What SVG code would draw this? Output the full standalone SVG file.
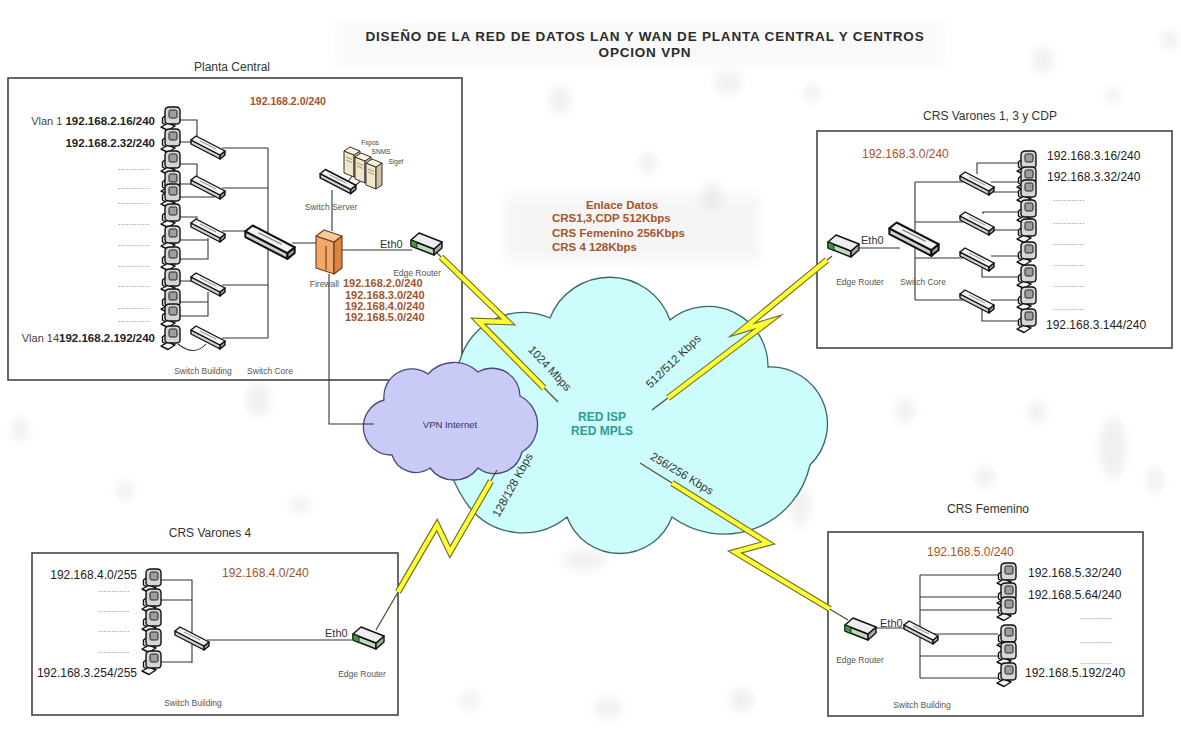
<svg xmlns="http://www.w3.org/2000/svg" width="1181" height="742" viewBox="0 0 1181 742">
<style>
 text { font-family: "Liberation Sans", Arial, sans-serif; }
 .box { fill:#fff; stroke:#444; stroke-width:1.6; }
 .ln { fill:none; stroke:#333; stroke-width:1.1; }
 .ttl { font-size:13.5px; font-weight:bold; letter-spacing:0.8px; fill:#2b2b2b; text-anchor:middle; }
 .hdr { font-size:12px; fill:#333; text-anchor:middle; }
 .ip { font-size:12px; fill:#222; }
 .ipb { font-weight:bold; font-size:11.5px; }
 .org { fill:#a3542a; }
 .sm { font-size:8.5px; fill:#555; text-anchor:middle; }
 .dots { font-size:9.5px; fill:#888; }
 .eth { font-size:11px; fill:#333; }
 .rate { font-size:11.5px; fill:#333; text-anchor:middle; }
 .wire { fill:none; stroke:#55552a; stroke-width:1.3; }
 .bolt-e { fill:none; stroke:#6d6d2c; stroke-width:6.5; stroke-linejoin:miter; stroke-miterlimit:6; }
 .bolt-y { fill:none; stroke:#ffff33; stroke-width:4.3; stroke-linejoin:miter; stroke-miterlimit:6; }
 .blob { fill:#dedede; opacity:0.45; filter:url(#soft); }
 .dev { stroke:#111; stroke-width:1.4; stroke-linejoin:round; }
</style>
<defs>
 <filter id="soft" x="-80%" y="-80%" width="260%" height="260%"><feGaussianBlur stdDeviation="5"/></filter>
 <!-- workstation -->
 <g id="pc" class="dev">
  <path d="M-11,9 L-4,5 L3,8 L-4,12.5 Z" fill="#f4f4f4"/>
  <path d="M-7,-7 Q-7,-11 -2,-11 L4,-11 Q8,-11 8,-7 L8,3 Q8,6 4,6 L-2,6 Q-7,6 -7,3 Z" fill="#d6d6d6"/>
  <rect x="-3" y="-8" width="8" height="8" rx="1.5" fill="#9e9e9e" stroke-width="0.9"/>
  <path d="M-7,-2 L-9.5,0 L-9.5,5 L-6,7" fill="none"/>
 </g>
 <!-- switch -->
 <g id="sw" class="dev">
  <polygon points="-17,-6 12,9 12,13 -17,-2" fill="#cfcfcf"/>
  <polygon points="12,9 17,5 17,9 12,13" fill="#9f9f9f"/>
  <polygon points="-17,-6 -12,-10 17,5 12,9" fill="#f3f3f3"/>
  <path d="M-8,-5 L8,3" stroke="#777" stroke-width="0.8"/>
 </g>
 <!-- edge router -->
 <g id="rt" class="dev">
  <polygon points="-15,-3 8,6 8,12 -15,3" fill="#bcd9bc"/>
  <polygon points="8,6 16,-1 16,5 8,12" fill="#a6a6a6"/>
  <polygon points="-15,-3 -7,-10 16,-1 8,6" fill="#eeeeee"/>
  <path d="M-15,-3 L-15,3 L-9,5.5 L-9,-0.5 Z" fill="#3f9a3f" stroke-width="0.8"/>
 </g>
 <!-- server tower -->
 <g id="srv" stroke="#333" stroke-width="1" stroke-linejoin="round">
  <polygon points="0,0 10,4 10,26 0,22" fill="#f1e6c8"/>
  <polygon points="10,4 16,0 16,22 10,26" fill="#d2c39c"/>
  <polygon points="0,0 6,-4 16,0 10,4" fill="#faf3de"/>
  <path d="M2,6 L8,8.5 M2,9 L8,11.5" stroke="#777" stroke-width="0.7"/>
 </g>
</defs>

<rect width="1181" height="742" fill="#fff"/>

<!-- faint background decoration -->
<g id="backdrop">
 <rect x="335" y="22" width="610" height="44" fill="#f0f0f0" opacity="0.35" filter="url(#soft)"/>
 <rect x="505" y="195" width="255" height="66" fill="#e8e8e8" opacity="0.4" filter="url(#soft)"/>
 <ellipse class="blob" cx="560" cy="100" rx="10" ry="14"/>
 <ellipse class="blob" cx="728" cy="82" rx="13" ry="11"/>
 <ellipse class="blob" cx="812" cy="93" rx="8" ry="8"/>
 <ellipse class="blob" cx="1043" cy="60" rx="10" ry="13"/>
 <ellipse class="blob" cx="1113" cy="95" rx="8" ry="6"/>
 <ellipse class="blob" cx="648" cy="163" rx="9" ry="10"/>
 <ellipse class="blob" cx="712" cy="197" rx="11" ry="14"/>
 <ellipse class="blob" cx="905" cy="410" rx="10" ry="12"/>
 <ellipse class="blob" cx="1037" cy="413" rx="9" ry="11"/>
 <ellipse class="blob" cx="1113" cy="448" rx="14" ry="30"/>
 <ellipse class="blob" cx="258" cy="400" rx="12" ry="16"/>
 <ellipse class="blob" cx="228" cy="690" rx="10" ry="12"/>
 <ellipse class="blob" cx="608" cy="708" rx="14" ry="10"/>
 <ellipse class="blob" cx="742" cy="700" rx="12" ry="12"/>
 <ellipse class="blob" cx="985" cy="478" rx="10" ry="10"/>
 <ellipse class="blob" cx="1155" cy="480" rx="8" ry="12"/>
 <ellipse class="blob" cx="470" cy="700" rx="10" ry="8"/>
 <ellipse class="blob" cx="125" cy="490" rx="8" ry="10"/>
 <ellipse class="blob" cx="300" cy="505" rx="9" ry="9"/>
 <ellipse class="blob" cx="20" cy="430" rx="8" ry="12"/>
 <ellipse class="blob" cx="585" cy="560" rx="22" ry="10"/>
 <ellipse class="blob" cx="800" cy="505" rx="10" ry="20"/>
 <ellipse class="blob" cx="1170" cy="40" rx="8" ry="10"/>
</g>

<!-- title -->
<g id="title">
 <text class="ttl" x="645" y="41">DISEÑO DE LA RED DE DATOS LAN Y WAN  DE PLANTA CENTRAL Y CENTROS</text>
 <text class="ttl" x="645" y="57">OPCION VPN</text>
</g>

<!-- site frames -->
<g id="frames">
 <rect class="box" x="8" y="78" width="454" height="302"/>
 <rect class="box" x="817" y="131" width="355" height="217"/>
 <rect class="box" x="32" y="553" width="366" height="162"/>
 <rect class="box" x="828" y="532" width="315" height="184"/>
</g>

<!-- carrier cloud -->
<g id="red-isp">
 <path d="M470,508 A135,135 0 0 1 460,360 A66,66 0 0 1 550,318 A64,64 0 0 1 670,320 A60,60 0 0 1 768,367 A57,57 0 0 1 810,465 A88,88 0 0 1 672,517 A56,56 0 0 1 567,517 A69,69 0 0 1 470,508 Z" fill="#ccfcfc" stroke="#3d6666" stroke-width="1.3"/>
 <text x="602" y="421" font-size="12" font-weight="bold" fill="#2f9c98" text-anchor="middle">RED ISP</text>
 <text x="602" y="435" font-size="12" font-weight="bold" fill="#2f9c98" text-anchor="middle">RED MPLS</text>
</g>

<!-- internet cloud -->
<g id="vpn-internet">
 <path d="M392,455 A28,28 0 0 1 384,400 A28,28 0 0 1 428,374 A35,35 0 0 1 478,372 A28,28 0 0 1 520,396 A32,32 0 0 1 522,452 A28,28 0 0 1 478,468 A30,30 0 0 1 430,468 A25,25 0 0 1 392,455 Z" fill="#cacaf6" stroke="#4a4a7a" stroke-width="1.3"/>
 <text x="450" y="428" font-size="9.5" fill="#333366" text-anchor="middle">VPN Internet</text>
</g>

<!-- links -->
<g id="connectors">
 <!-- Planta Central LAN -->
 <path class="ln" d="M179,120 H197 V139 M179,142 H193 M179,164 H197 V178 M179,184 H192 M179,197 H214 V195 M179,217 H197 V220 M179,240 H208 V238 M179,259 H208 V240 M179,281 H197 V274 M179,302 H208 V292 M179,316 H208 V302 M178,344 Q194,357 206,344"/>
 <path class="ln" d="M222,148 H268 M222,188 H268 M222,285 H268 M222,338 H268 M268,148 V338 M222,231 H252 M292,243 H317"/>
 <path class="ln" d="M332,231 V190 M342,250 H412 M329,274 V424 H374"/>
 <path class="ln" d="M346,185 L352,176 M352,188 L362,180" stroke-width="0.8"/>
 <!-- CRS Varones 1, 3 y CDP LAN -->
 <path class="ln" d="M860,248 H900 M915,182 V300 M915,182 H963 M915,222 H963 M915,258 H963 M915,300 H963"/>
 <path class="ln" d="M977,174 V163 H1018 M991,182 H1018 M988,192 H1018 M983,214 V212 H1018 M991,230 H1018 M991,256 H1018 M982,266 V277 H1018 M991,300 H1018 M982,308 V321 H1018"/>
 <!-- CRS Varones 4 LAN -->
 <path class="ln" d="M161,580 H192 V663 M161,600 H192 M161,662 H192 M207,640 H352"/>
 <!-- CRS Femenino LAN -->
 <path class="ln" d="M920,575 V678 M920,575 H998 M920,597 H998 M920,610 H998 M920,634 H998 M920,656 H998 M920,678 H998 M876,628 H905"/>

 <!-- WAN lightning links -->
 <path class="wire" d="M437,253 L508,322 L478,321 L558,402"/>
 <path class="bolt-e" d="M441,257 L508,322 L478,321 L544,388"/>
 <path class="bolt-y" d="M441,257 L508,322 L478,321 L544,388"/>

 <path class="wire" d="M832,256 L742,330 L768,322 L652,410"/>
 <path class="bolt-e" d="M827,260 L742,330 L768,322 L668,398"/>
 <path class="bolt-y" d="M827,260 L742,330 L768,322 L668,398"/>

 <path class="wire" d="M376,630 L437,525 L450,552 L497,470"/>
 <path class="bolt-e" d="M398,592 L437,525 L450,552 L491,481"/>
 <path class="bolt-y" d="M398,592 L437,525 L450,552 L491,481"/>

 <path class="wire" d="M640,463 L768,543 L735,552 L848,620"/>
 <path class="bolt-e" d="M672,483 L768,543 L735,552 L830,609"/>
 <path class="bolt-y" d="M672,483 L768,543 L735,552 L830,609"/>

 <text class="rate" transform="translate(547,371) rotate(47)">1024 Mbps</text>
 <text class="rate" transform="translate(676,364) rotate(-44)">512/512 Kbps</text>
 <text class="rate" transform="translate(516,487) rotate(-61)">128/128 Kbps</text>
 <text class="rate" transform="translate(680,477) rotate(31)">256/256 Kbps</text>
</g>

<!-- link capacity note -->
<g id="enlace-datos" font-weight="bold" font-size="11.5" class="org">
 <text x="622" y="209" text-anchor="middle" class="org">Enlace Datos</text>
 <text x="552" y="222" class="org">CRS1,3,CDP 512Kbps</text>
 <text x="552" y="237" class="org">CRS Femenino 256Kbps</text>
 <text x="552" y="251" class="org">CRS 4 128Kbps</text>
</g>

<!-- Planta Central -->
<g id="planta-central">
 <text class="hdr" x="232" y="71">Planta Central</text>
 <text class="org" x="250" y="105" font-size="10.5" font-weight="bold">192.168.2.0/240</text>
 <use href="#pc" x="172" y="118"/>
 <use href="#pc" x="172" y="140"/>
 <use href="#pc" x="172" y="162"/>
 <use href="#pc" x="172" y="182"/>
 <use href="#pc" x="172" y="195"/>
 <use href="#pc" x="172" y="215"/>
 <use href="#pc" x="172" y="237"/>
 <use href="#pc" x="172" y="258"/>
 <use href="#pc" x="172" y="280"/>
 <use href="#pc" x="172" y="300"/>
 <use href="#pc" x="172" y="315"/>
 <use href="#pc" x="172" y="337"/>
 <use href="#sw" x="208" y="146"/>
 <use href="#sw" x="208" y="186"/>
 <use href="#sw" x="208" y="229"/>
 <use href="#sw" x="208" y="283"/>
 <use href="#sw" x="208" y="336"/>
 <use href="#sw" transform="translate(270,240) scale(1.45)"/>
 <!-- firewall -->
 <g stroke="#6a3a1a" stroke-width="1.1" stroke-linejoin="round">
  <polygon points="316,236 334,242 334,274 316,268" fill="#f2a868"/>
  <polygon points="334,242 342,236 342,268 334,274" fill="#d98545"/>
  <polygon points="316,236 324,230 342,236 334,242" fill="#f8c89a"/>
  <path d="M326,246 V270" fill="none"/>
 </g>
 <!-- switch server and servers -->
 <use href="#sw" transform="translate(338,180) scale(1.05)"/>
 <use href="#srv" x="344" y="151"/>
 <use href="#srv" x="355" y="157"/>
 <use href="#srv" x="366" y="163"/>
 <text x="370" y="145" font-size="6.5" fill="#444" text-anchor="middle">Fxpos</text>
 <text x="381" y="154" font-size="6.5" fill="#444" text-anchor="middle">SNMS</text>
 <text x="396" y="164" font-size="6.5" fill="#444" text-anchor="middle">Sigef</text>
 <text class="sm" x="331" y="210">Switch Server</text>
 <use href="#rt" x="426" y="243"/>
 <text class="eth" x="380" y="248">Eth0</text>
 <text class="sm" x="417" y="276">Edge Router</text>
 <text class="sm" x="339" y="287" style="text-anchor:end">Firewall</text>
 <g class="org" font-size="11" font-weight="bold">
  <text x="343" y="287">192.168.2.0/240</text>
  <text x="345" y="299">192.168.3.0/240</text>
  <text x="345" y="310">192.168.4.0/240</text>
  <text x="345" y="321">192.168.5.0/240</text>
 </g>
 <text class="ip" x="155" y="125" text-anchor="end"><tspan font-size="11" fill="#444">Vlan 1 </tspan><tspan class="ipb">192.168.2.16/240</tspan></text>
 <text class="ip ipb" x="155" y="147" text-anchor="end">192.168.2.32/240</text>
 <g class="dots">
  <text x="118" y="170">............</text>
  <text x="118" y="189">............</text>
  <text x="118" y="204">............</text>
  <text x="118" y="225">............</text>
  <text x="118" y="246">............</text>
  <text x="118" y="267">............</text>
  <text x="118" y="287">............</text>
  <text x="118" y="309">............</text>
  <text x="118" y="322">............</text>
 </g>
 <text class="ip" x="155" y="342" text-anchor="end"><tspan font-size="11" fill="#444">Vlan 14</tspan><tspan class="ipb">192.168.2.192/240</tspan></text>
 <text class="sm" x="203" y="374">Switch Building</text>
 <text class="sm" x="270" y="374">Switch Core</text>
</g>

<!-- CRS Varones 1, 3 y CDP -->
<g id="crs-varones-13">
 <text class="hdr" x="990" y="120">CRS Varones 1, 3 y CDP</text>
 <text class="ip org" x="862" y="158">192.168.3.0/240</text>
 <use href="#pc" x="1028" y="162"/>
 <use href="#pc" x="1028" y="178"/>
 <use href="#pc" x="1028" y="191"/>
 <use href="#pc" x="1028" y="211"/>
 <use href="#pc" x="1028" y="230"/>
 <use href="#pc" x="1028" y="253"/>
 <use href="#pc" x="1028" y="276"/>
 <use href="#pc" x="1028" y="298"/>
 <use href="#pc" x="1028" y="320"/>
 <use href="#sw" x="977" y="182"/>
 <use href="#sw" x="977" y="222"/>
 <use href="#sw" x="977" y="258"/>
 <use href="#sw" x="977" y="300"/>
 <use href="#sw" transform="translate(914,237) scale(1.45)"/>
 <use href="#rt" x="843" y="245"/>
 <text class="eth" x="861" y="244">Eth0</text>
 <text class="sm" x="860" y="285">Edge Router</text>
 <text class="sm" x="923" y="285">Switch Core</text>
 <text class="ip" x="1047" y="160">192.168.3.16/240</text>
 <text class="ip" x="1047" y="181">192.168.3.32/240</text>
 <g class="dots">
  <text x="1053" y="201">............</text>
  <text x="1053" y="224">............</text>
  <text x="1053" y="245">............</text>
  <text x="1053" y="266">............</text>
  <text x="1053" y="287">............</text>
  <text x="1053" y="310">............</text>
 </g>
 <text class="ip" x="1046" y="329">192.168.3.144/240</text>
</g>

<!-- CRS Varones 4 -->
<g id="crs-varones-4">
 <text class="hdr" x="210" y="537">CRS Varones 4</text>
 <text class="ip org" x="222" y="577">192.168.4.0/240</text>
 <use href="#pc" x="153" y="580"/>
 <use href="#pc" x="153" y="600"/>
 <use href="#pc" x="153" y="620"/>
 <use href="#pc" x="153" y="640"/>
 <use href="#pc" x="153" y="662"/>
 <use href="#sw" x="192" y="637"/>
 <use href="#rt" x="368" y="637"/>
 <text class="eth" x="325" y="637">Eth0</text>
 <text class="sm" x="362" y="677">Edge Router</text>
 <text class="sm" x="193" y="706">Switch Building</text>
 <text class="ip" x="137" y="579" text-anchor="end">192.168.4.0/255</text>
 <g class="dots">
  <text x="98" y="592">............</text>
  <text x="98" y="612">............</text>
  <text x="98" y="632">............</text>
  <text x="98" y="653">............</text>
 </g>
 <text class="ip" x="137" y="677" text-anchor="end">192.168.3.254/255</text>
</g>

<!-- CRS Femenino -->
<g id="crs-femenino">
 <text class="hdr" x="988" y="513">CRS Femenino</text>
 <text class="ip org" x="927" y="556">192.168.5.0/240</text>
 <use href="#pc" x="1008" y="574"/>
 <use href="#pc" x="1008" y="594"/>
 <use href="#pc" x="1008" y="608"/>
 <use href="#pc" x="1008" y="636"/>
 <use href="#pc" x="1008" y="653"/>
 <use href="#pc" x="1008" y="674"/>
 <use href="#sw" x="921" y="631"/>
 <use href="#rt" x="860" y="628"/>
 <text class="eth" x="880" y="627">Eth0</text>
 <text class="sm" x="860" y="663">Edge Router</text>
 <text class="sm" x="922" y="708">Switch Building</text>
 <text class="ip" x="1028" y="577">192.168.5.32/240</text>
 <text class="ip" x="1028" y="599">192.168.5.64/240</text>
 <g class="dots">
  <text x="1080" y="619">............</text>
  <text x="1080" y="643">............</text>
  <text x="1080" y="664">............</text>
 </g>
 <text class="ip" x="1025" y="677">192.168.5.192/240</text>
</g>
</svg>
